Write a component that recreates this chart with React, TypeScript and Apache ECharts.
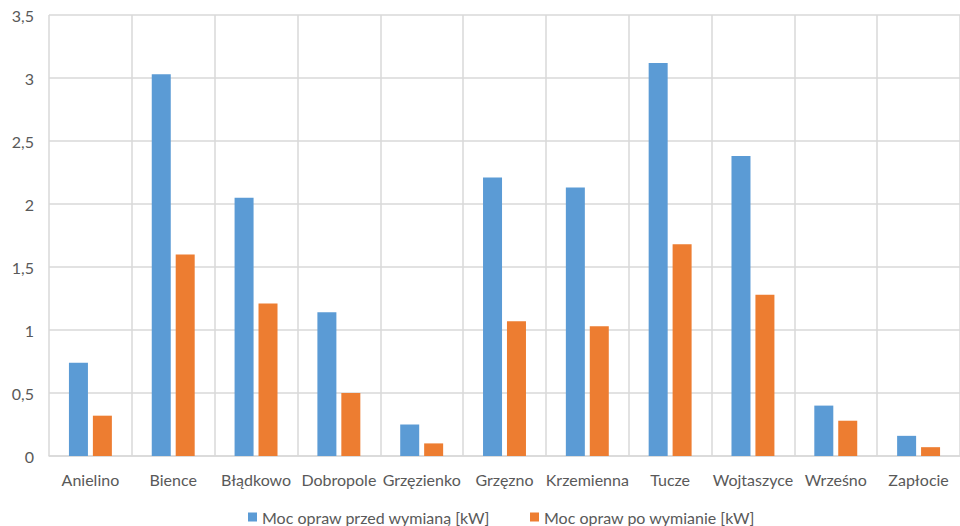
import React, { useEffect, useRef } from "react";
import * as echarts from "echarts";

const categories = [
  "Anielino",
  "Bience",
  "Błądkowo",
  "Dobropole",
  "Grzęzienko",
  "Grzęzno",
  "Krzemienna",
  "Tucze",
  "Wojtaszyce",
  "Wrześno",
  "Zapłocie",
];
const beforeValues = [0.74, 3.03, 2.05, 1.14, 0.25, 2.21, 2.13, 3.12, 2.38, 0.4, 0.16];
const afterValues = [0.32, 1.6, 1.21, 0.5, 0.1, 1.07, 1.03, 1.68, 1.28, 0.28, 0.07];
const seriesNames = ["Moc opraw przed wymianą [kW]", "Moc opraw po wymianie [kW]"];

export default function App() {
  const ref = useRef<HTMLDivElement>(null);
  useEffect(() => {
    if (!ref.current) return;
    const chart = echarts.init(ref.current, null, { renderer: "svg" });
    const font = "Lato, 'Open Sans', sans-serif";
    chart.setOption({
      animation: false,
      backgroundColor: "#ffffff",
      textStyle: { fontFamily: font },
      grid: { left: 49, right: -9, top: 15, bottom: 70 },
      legend: {
        left: 248,
        top: 509,
        padding: 0,
        itemWidth: 9,
        itemHeight: 9,
        itemGap: 40,
        icon: "rect",
        textStyle: { color: "#595959", fontSize: 16, lineHeight: 16, fontFamily: font, padding: [0, 0, 0, 0] },
        data: seriesNames,
      },
      xAxis: {
        type: "category",
        data: categories,
        axisLine: { lineStyle: { color: "#D9D9D9", width: 1.5 } },
        axisTick: { show: false },
        splitLine: { show: true, lineStyle: { color: "#D9D9D9", width: 1.5 } },
        axisLabel: { color: "#595959", fontSize: 16, fontFamily: font, margin: 15, interval: 0 },
      },
      yAxis: {
        type: "value",
        min: 0,
        max: 3.5,
        interval: 0.5,
        axisLine: { show: false },
        axisTick: { show: false },
        splitLine: { lineStyle: { color: "#D9D9D9", width: 1.5 } },
        axisLabel: {
          color: "#595959",
          fontSize: 16,
          fontFamily: font,
          margin: 15,
          formatter: (v: number) => String(v).replace(".", ","),
        },
      },
      series: [
        {
          name: seriesNames[0],
          type: "bar",
          data: beforeValues,
          barWidth: 19,
          barGap: "26%",
          itemStyle: { color: "#5B9BD5" },
        },
        {
          name: seriesNames[1],
          type: "bar",
          data: afterValues,
          barWidth: 19,
          itemStyle: { color: "#ED7D31" },
        },
      ],
    });
    return () => chart.dispose();
  }, []);
  return (
    <div
      ref={ref}
      style={{ position: "fixed", left: 0, top: 0, width: 960, height: 526, background: "#fff" }}
    />
  );
}
